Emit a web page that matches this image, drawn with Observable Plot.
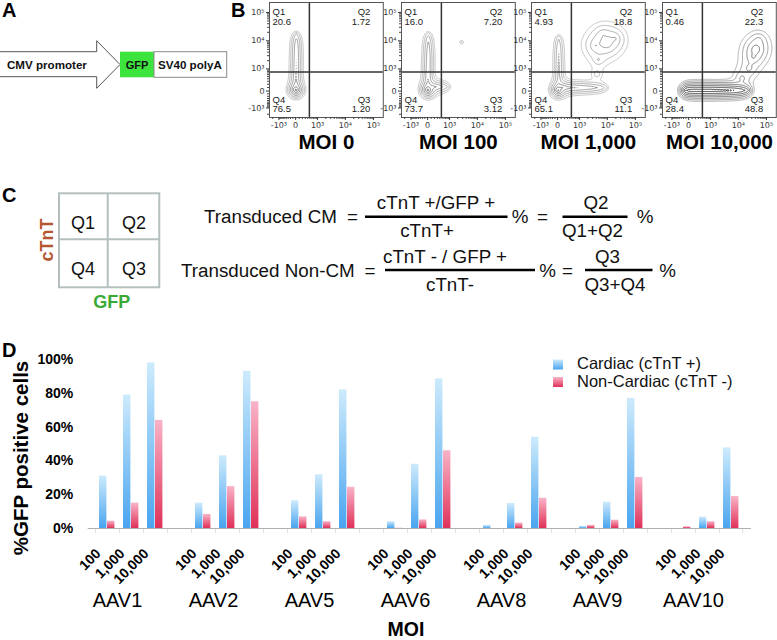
<!DOCTYPE html>
<html><head><meta charset="utf-8">
<script src="https://cdn.jsdelivr.net/npm/d3@7"></script>
<script src="https://cdn.jsdelivr.net/npm/@observablehq/plot@0.6"></script>
<style>
body{margin:0;background:#fff;}
#root{position:relative;width:777px;height:640px;overflow:hidden;font-family:"Liberation Sans",Arial,sans-serif;}
#root > svg, #root > div{position:absolute;}
</style></head><body><div id="root"></div>
<script>
// ---------- Panel D data ----------
const groups = ["AAV1","AAV2","AAV5","AAV6","AAV8","AAV9","AAV10"];
const moiLevels = ["100","1,000","10,000"];
// %GFP positive (per group: MOI 100, 1,000, 10,000)
const cardiacPct    = [31, 79, 98,   15, 43, 93,   16.4, 31.8, 82,   4, 38, 88.5,   1.8, 14.8, 54,   1.2, 15.6, 77,   0, 6.7, 47.7];
const nonCardiacPct = [4.3, 15, 64,  8.3, 24.8, 75, 6.9, 4, 24.4,    0.2, 5.1, 46,  0, 3.2, 17.9,    1.8, 4.9, 30.2,  1.0, 4, 18.9];
const seriesNames = ["Cardiac (cTnT +)", "Non-Cardiac (cTnT -)"];
const yTicks = [0, 0.2, 0.4, 0.6, 0.8, 1];
const yTitle = "%GFP positive cells";
const xTitle = "MOI";

// ---------- Panel B data ----------
const flowTitles = ["MOI 0", "MOI 100", "MOI 1,000", "MOI 10,000"];
const q1Vals = ["20.6", "16.0", "4.93", "0.46"];
const q2Vals = ["1.72", "7.20", "18.8", "22.3"];
const q3Vals = ["1.20", "3.12", "11.1", "48.8"];
const q4Vals = ["76.5", "73.7", "65.1", "28.4"];
const gateGFP = 470, gateCTnT = 760;
const majorTicks = [-1000, 0, 1000, 10000, 100000];
const majorLabels = ["-10³", "0", "10³", "10⁴", "10⁵"];
const minorTicks = [-2000,-900,-800,-700,-600,-500,-400,-300,-200,-100,100,200,300,400,500,600,700,800,900,
  2000,3000,4000,5000,6000,7000,8000,9000,20000,30000,40000,50000,60000,70000,80000,90000];
const contourLevels = [0.08, 0.16, 0.32, 0.64, 1.28, 2.56, 5.12, 10.24];
// population cores [GFP, cTnT, weight, spread (decades)]
const moi0Cells = [[13,19,5,0.08],[0,62,2.5,0.07],
  [10,162,1.0,0.07],[10,250,1.0,0.07],[10,359,0.95,0.07],[10,484,0.9,0.07],[10,635,0.9,0.07],[15,817,0.85,0.07],[15,1044,0.85,0.07],[15,1324,0.85,0.07],[20,1683,0.85,0.07],[20,2130,0.85,0.07],[20,2683,0.8,0.07],[20,3385,0.8,0.07],[20,4264,0.75,0.07],[20,5370,0.75,0.07],[20,6768,0.7,0.07],[20,8520,0.65,0.07],[20,10723,0.55,0.07],[20,13500,0.4,0.07],[20,17000,0.25,0.07]];
const moi100Cells = [[13,19,5,0.08],[0,62,2.5,0.07],
  [10,162,0.9,0.07],[10,250,0.9,0.07],[10,359,0.85,0.07],[10,484,0.8,0.07],[10,635,0.8,0.07],[15,817,0.75,0.07],[15,1044,0.75,0.07],[15,1324,0.75,0.07],[20,1683,0.75,0.07],[20,2130,0.75,0.07],[20,2683,0.7,0.07],[20,3385,0.7,0.07],[20,4264,0.65,0.07],[20,5370,0.6,0.07],[20,6768,0.55,0.07],[20,8520,0.5,0.07],[20,10723,0.4,0.07],[20,13500,0.3,0.07],[20,17000,0.2,0.07],
  [162,120,0.9,0.08],[250,120,0.75,0.08],[359,120,0.6,0.08],[484,120,0.45,0.08],[635,120,0.3,0.08],[817,120,0.2,0.08],[2750,9000,0.2,0.07]];
const moi1000Cells = [[19,19,5,0.08],[0,62,1.8,0.07],
  [31,162,0.6,0.07],[31,250,0.6,0.07],[31,359,0.55,0.07],[31,484,0.55,0.07],[31,635,0.5,0.07],[31,817,0.5,0.07],[31,1044,0.5,0.07],[31,1324,0.5,0.07],[31,1683,0.5,0.07],[31,2130,0.45,0.07],[31,2683,0.45,0.07],[31,3385,0.45,0.07],[31,4264,0.4,0.07],[31,5370,0.4,0.07],[31,6768,0.35,0.07],[31,8520,0.3,0.07],[31,10723,0.25,0.07],[31,13500,0.18,0.07],
  [120,95,1.1,0.075],[162,95,1.05,0.075],[250,95,1.0,0.075],[359,95,0.95,0.075],[484,95,0.9,0.075],[635,95,0.85,0.075],[817,95,0.8,0.075],[1044,95,0.75,0.075],[1324,95,0.7,0.075],[1683,95,0.65,0.075],[2130,95,0.6,0.075],[2683,95,0.55,0.075],[3385,95,0.5,0.075],[4264,95,0.42,0.075],[5370,95,0.35,0.075],[6768,95,0.28,0.075],[8520,95,0.2,0.075],
  [9560,8520,1.0,0.24],[3800,6768,0.45,0.24],[19070,12030,0.45,0.18],[6768,17000,0.3,0.18],[4785,2130,0.25,0.14],[4264,635,0.3,0.12]];
const moi10000Cells = [[-104,19,4.3,0.07],[0,19,4.6,0.07],[80,19,4.6,0.07],[162,19,4.6,0.07],[250,19,4.6,0.07],[359,19,4.6,0.07],[484,19,4.6,0.07],[635,19,4.6,0.07],[817,19,4.6,0.07],[1044,19,4.6,0.07],[1324,19,4.5,0.07],[1683,19,4.4,0.07],[2130,19,4.3,0.07],[2683,19,4.2,0.07],[3385,19,4.1,0.07],[4264,19,3.9,0.07],[5370,19,3.7,0.07],[6768,19,3.5,0.07],[8520,19,3.2,0.07],[10723,19,2.8,0.07],[13500,19,2.4,0.07],[17000,19,1.8,0.07],[21400,19,1.1,0.07],
  [41700,5100,1.0,0.2],[33900,2683,0.5,0.18],[24000,1044,0.35,0.18],[13500,420,0.4,0.18],[53700,10723,0.3,0.18]];
const flowCells = [moi0Cells, moi100Cells, moi1000Cells, moi10000Cells];

const root = document.getElementById("root");
const FONT = '"Liberation Sans", Arial, sans-serif';

// ---------- static layer: panels A, C, letters, gradients ----------
root.insertAdjacentHTML("beforeend", `
<svg width="777" height="640" style="left:0;top:0" font-family='${FONT}'>
 <defs>
  <linearGradient id="gBlue" x1="0" y1="0" x2="0" y2="1">
   <stop offset="0" stop-color="#cdeafc"/><stop offset="1" stop-color="#4aa5ef"/></linearGradient>
  <linearGradient id="gPink" x1="0" y1="0" x2="0" y2="1">
   <stop offset="0" stop-color="#f9b3c8"/><stop offset="1" stop-color="#df3158"/></linearGradient>
 </defs>
 <g font-weight="bold" font-size="20">
  <text x="2" y="17">A</text><text x="231" y="17">B</text>
  <text x="2" y="202">C</text><text x="2" y="357">D</text>
 </g>
 <polygon points="-1,51.7 96.7,51.7 96.7,40.7 120,64.5 96.7,88.3 96.7,76.7 -1,76.7" fill="#fff" stroke="#555" stroke-width="1"/>
 <rect x="120" y="51.7" width="34" height="25.6" fill="#3ee43e"/>
 <rect x="154" y="51.7" width="72.7" height="25.6" fill="#fff" stroke="#8a8a8a" stroke-width="1"/>
 <g font-weight="bold" font-size="11.6" fill="#111">
  <text x="7" y="68.5">CMV promoter</text>
  <text x="137" y="68.5" text-anchor="middle" font-size="11">GFP</text>
  <text x="158" y="68.5">SV40 polyA</text>
 </g>
 <g fill="none" stroke="#b5bfbf" stroke-width="2">
  <rect x="59" y="193.3" width="100.3" height="94"/>
  <line x1="107.7" y1="193.3" x2="107.7" y2="287.3"/>
  <line x1="59" y1="239.3" x2="159.3" y2="239.3"/>
 </g>
 <g font-size="18" text-anchor="middle" fill="#111">
  <text x="83" y="228.5">Q1</text><text x="134" y="228.5">Q2</text>
  <text x="83" y="275">Q4</text><text x="134" y="275">Q3</text>
 </g>
 <text transform="translate(53.3,240) rotate(-90)" text-anchor="middle" font-weight="bold" font-size="18" fill="#b4562f">cTnT</text>
 <text x="111.7" y="308" text-anchor="middle" font-weight="bold" font-size="18" fill="#3aaa35">GFP</text>
 <g font-size="18.8" fill="#111">
  <text x="204" y="223">Transduced CM</text>
  <text x="352.5" y="223" text-anchor="middle">=</text>
  <line x1="365" y1="216.7" x2="507.5" y2="216.7" stroke="#000" stroke-width="2.5"/>
  <text x="436" y="209" text-anchor="middle">cTnT +/GFP +</text>
  <text x="427" y="237" text-anchor="middle">cTnT+</text>
  <text x="520" y="223" text-anchor="middle">%</text>
  <text x="542.5" y="223" text-anchor="middle">=</text>
  <line x1="562.5" y1="216.7" x2="627.5" y2="216.7" stroke="#000" stroke-width="2.5"/>
  <text x="596" y="209" text-anchor="middle">Q2</text>
  <text x="592.5" y="237" text-anchor="middle">Q1+Q2</text>
  <text x="645" y="223" text-anchor="middle">%</text>

  <text x="181" y="276.5">Transduced Non-CM</text>
  <text x="370" y="276.5" text-anchor="middle">=</text>
  <line x1="385" y1="270" x2="535" y2="270" stroke="#000" stroke-width="2.5"/>
  <text x="445" y="263" text-anchor="middle">cTnT - / GFP +</text>
  <text x="450" y="291" text-anchor="middle">cTnT-</text>
  <text x="547.5" y="276.5" text-anchor="middle">%</text>
  <text x="567.5" y="276.5" text-anchor="middle">=</text>
  <line x1="585" y1="270" x2="652.5" y2="270" stroke="#000" stroke-width="2.5"/>
  <text x="607.5" y="263" text-anchor="middle">Q3</text>
  <text x="615" y="291" text-anchor="middle">Q3+Q4</text>
  <text x="667.5" y="276.5" text-anchor="middle">%</text>
 </g>
 <text transform="translate(27.5,458) rotate(-90)" text-anchor="middle" font-weight="bold" font-size="20.5" fill="#000">${yTitle}</text>
</svg>`);

// ---------- Panel B: flow cytometry contour plots ----------
const LN10 = Math.LN10;
function biex(v) { const u = Math.asinh(v / 340) / LN10; return v >= 0 ? u : 0.76 * u; }
const labelOf = new Map(majorTicks.map((t, i) => [biex(t), majorLabels[i]]));
const frameLefts = [269, 400.7, 530.7, 661.7];
const flowDomain = [-0.93, 3.12];
// smooth population density built from the cores (exponential kernel)
function smoothDensity(cells) {
  const pts = cells.map(([g, c, w, s]) => [biex(g), biex(c), w, s]);
  return (x, y) => {
    let v = 0;
    for (const [px, py, w, s] of pts) { const dx = x - px, dy = y - py; v += w * Math.exp(-Math.sqrt(dx * dx + dy * dy) / s); }
    return v;
  };
}

flowTitles.forEach((title, k) => {
  const cells = flowCells[k];
  const marks = [];
  if (Plot.contour) {
    marks.push(Plot.contour({value: smoothDensity(cells), x1: flowDomain[0], x2: flowDomain[1], y1: flowDomain[0], y2: flowDomain[1],
      thresholds: contourLevels, stroke: "value", fill: "none", strokeWidth: k === 3 ? 0.85 : 0.6, pixelSize: 0.5}));
  } else if (Plot.density) {
    marks.push(Plot.density(cells, {x: d => biex(d[0]), y: d => biex(d[1]), weight: d => d[2],
      bandwidth: 2.8, thresholds: 10, stroke: "#808080", strokeWidth: 0.6}));
  }
  marks.push(
    Plot.ruleX([gateGFP], {x: biex, stroke: "#333", strokeWidth: 1.5}),
    Plot.ruleY([gateCTnT], {y: biex, stroke: "#333", strokeWidth: 1.5}),
    Plot.frame({stroke: "#555"}),
    Plot.axisX({ticks: minorTicks.map(biex), tickSize: 2, tickFormat: () => "", stroke: "#444"}),
    Plot.axisY({ticks: minorTicks.map(biex), tickSize: 2, tickFormat: () => "", stroke: "#444"}),
    Plot.axisX({ticks: majorTicks.map(biex), tickSize: 3, tickPadding: 2, tickFormat: d => labelOf.get(d),
      fontSize: 8, fontFamily: "DejaVu Sans", fill: "#333", stroke: "#333"}),
    Plot.axisY({ticks: majorTicks.map(biex), tickSize: 3, tickPadding: 2, tickFormat: d => labelOf.get(d),
      fontSize: 8, fontFamily: "DejaVu Sans", fill: "#333", stroke: "#333"}),
    Plot.text([`Q1\n${q1Vals[k]}`], {frameAnchor: "top-left", textAnchor: "start", lineAnchor: "top", dx: 3, dy: 5, fontSize: 9.5, lineHeight: 1.05, fill: "#222"}),
    Plot.text([`Q2\n${q2Vals[k]}`], {frameAnchor: "top-right", textAnchor: "end", lineAnchor: "top", dx: -13, dy: 5, fontSize: 9.5, lineHeight: 1.05, fill: "#222"}),
    Plot.text([`Q4\n${q4Vals[k]}`], {frameAnchor: "bottom-left", textAnchor: "start", lineAnchor: "bottom", dx: 3, dy: -5, fontSize: 9.5, lineHeight: 1.05, fill: "#222"}),
    Plot.text([`Q3\n${q3Vals[k]}`], {frameAnchor: "bottom-right", textAnchor: "end", lineAnchor: "bottom", dx: -13, dy: -5, fontSize: 9.5, lineHeight: 1.05, fill: "#222"}),
    Plot.text([title], {frameAnchor: "bottom", lineAnchor: "bottom", dy: 31.6, fontSize: 20.5, fontWeight: "bold", fill: "#000"})
  );
  const p = Plot.plot({
    width: 145.8, height: 152, marginLeft: 30, marginRight: 2, marginTop: 2, marginBottom: 35,
    x: {domain: flowDomain, axis: null}, y: {domain: flowDomain, axis: null},
    color: {type: "log", domain: [0.08, 5.12], range: ["#a0a0a0", "#151515"], clamp: true},
    style: {fontFamily: FONT, background: "transparent", overflow: "visible"},
    marks
  });
  p.style.left = (frameLefts[k] - 30) + "px";
  p.style.top = "-0.3px";
  root.appendChild(p);
});

// ---------- Panel D: bar chart ----------
const slots = [];
groups.forEach((g, gi) => {
  moiLevels.forEach(m => slots.push(g + " " + m));
  if (gi < groups.length - 1) slots.push("gap " + g);
});
const rows = groups.flatMap((g, gi) => moiLevels.map((m, mi) => ({
  slot: g + " " + m, moi: m,
  cardiac: cardiacPct[gi * 3 + mi] / 100,
  non: nonCardiacPct[gi * 3 + mi] / 100
})));

const chart = Plot.plot({
  width: 777, height: 300, marginLeft: 87.7, marginRight: 26, marginTop: 19, marginBottom: 112,
  x: {domain: slots, padding: 0, axis: null},
  y: {domain: [0, 1], axis: null},
  style: {fontFamily: FONT, background: "transparent", overflow: "visible"},
  marks: [
    Plot.barY(rows, {x: "slot", y: "cardiac", fill: "url(#gBlue)", insetLeft: 4, insetRight: 12.6}),
    Plot.barY(rows, {x: "slot", y: "non", fill: "url(#gPink)", insetLeft: 12, insetRight: 4.6}),
    Plot.ruleY([0], {stroke: "#b0b0b0", strokeWidth: 1}),
    Plot.barY(slots, {x: d => d, y1: 0, y2: -0.03, insetRight: 23.6, fill: "#b0b0b0"}),
    Plot.barY(slots.slice(-1), {x: d => d, y1: 0, y2: -0.03, insetLeft: 23.6, fill: "#b0b0b0"}),
    Plot.axisY({ticks: yTicks, tickFormat: d3.format(".0%"), tickSize: 0, tickPadding: 15,
      fontSize: 14, fontWeight: "bold", fill: "#000"}),
    Plot.text(rows, {x: "slot", frameAnchor: "bottom", text: "moi", rotate: -45, textAnchor: "end", lineAnchor: "bottom",
      dx: -6, dy: 26, fontSize: 14, fontWeight: "bold", fill: "#000"})
  ]
});
chart.style.left = "0px"; chart.style.top = "340px";
root.appendChild(chart);

// group labels and axis title
const labels = Plot.plot({
  width: 777, height: 50, marginLeft: 116.2, marginRight: 82.3, marginTop: 0, marginBottom: 0,
  x: {type: "point", domain: groups, padding: 0, axis: null},
  style: {fontFamily: FONT, background: "transparent", overflow: "visible"},
  marks: [
    Plot.text(groups, {x: d => d, frameAnchor: "top", lineAnchor: "bottom", dy: 16.7, fontSize: 20, fill: "#000"}),
    Plot.text([xTitle], {frameAnchor: "top", lineAnchor: "bottom", dy: 45.5, fontSize: 19.5, fontWeight: "bold", fill: "#000"})
  ]
});
labels.style.left = "0px"; labels.style.top = "590px";
root.appendChild(labels);

// legend
root.insertAdjacentHTML("beforeend", `
<svg width="777" height="640" style="left:0;top:0;pointer-events:none" font-family='${FONT}'>
 <rect x="553" y="359.5" width="10" height="10" fill="url(#gBlue)"/>
 <text x="577" y="369" font-size="16.5" fill="#111">${seriesNames[0]}</text>
 <rect x="553" y="377" width="10" height="10" fill="url(#gPink)"/>
 <text x="577" y="386.5" font-size="16.5" fill="#111">${seriesNames[1]}</text>
</svg>`);
</script>
</body></html>
